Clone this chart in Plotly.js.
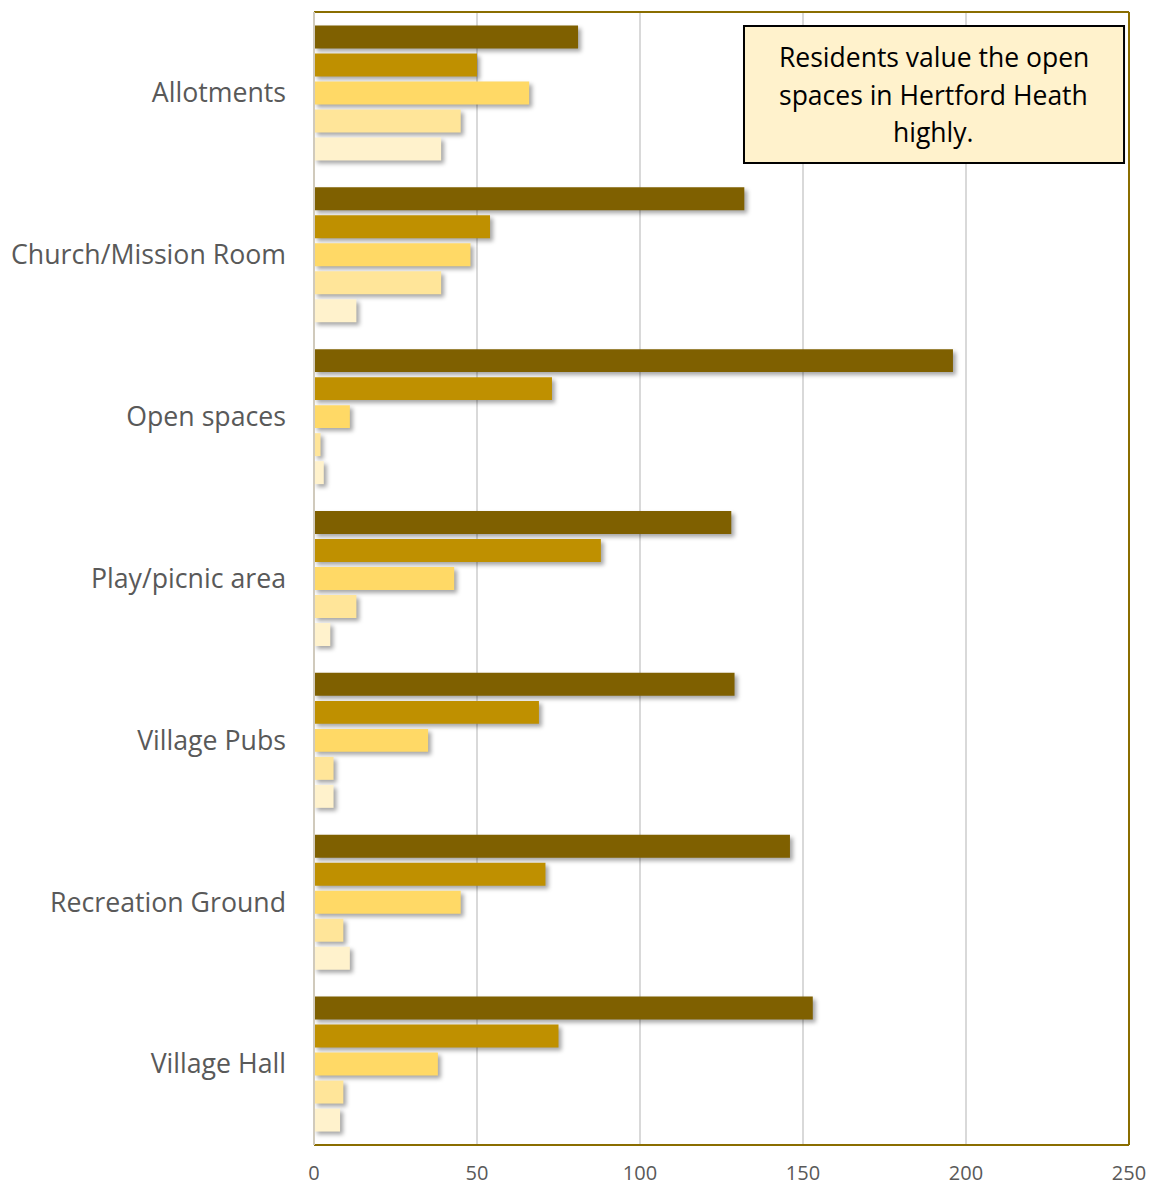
<!DOCTYPE html>
<html>
<head>
<meta charset="utf-8">
<script src="https://cdn.plot.ly/plotly-3.0.1.min.js"></script>
<style>
html,body{margin:0;padding:0;background:#fff;}
#chart{width:1156px;height:1188px;}
.barlayer .point path{filter: drop-shadow(3px 3px 2px rgba(0,0,0,0.35));}
</style>
</head>
<body>
<div id="chart"></div>
<script>
const categories = ["Allotments", "Church/Mission Room", "Open spaces", "Play/picnic area", "Village Pubs", "Recreation Ground", "Village Hall"];
const seriesNames = ["Very important", "Important", "Neutral", "Not very important", "Not important"];
const s1 = [81, 132, 196, 128, 129, 146, 153];
const s2 = [50, 54, 73, 88, 69, 71, 75];
const s3 = [66, 48, 11, 43, 35, 45, 38];
const s4 = [45, 39, 2, 13, 6, 9, 9];
const s5 = [39, 13, 3, 5, 6, 11, 8];
const xTicks = [0, 50, 100, 150, 200, 250];
const noteLines = ["Residents value the open", "spaces in Hertford Heath", "highly."];

const colors = ["#7F6000", "#BF9000", "#FFD966", "#FFE599", "#FFF2CC"];
const allSeries = [s1, s2, s3, s4, s5];
const traces = allSeries.map((vals, i) => ({
  type: "bar",
  orientation: "h",
  name: seriesNames[i],
  y: categories,
  x: vals,
  marker: {color: colors[i], line: {width: 0}},
  hoverinfo: "x+y+name"
}));

const gold = "#8A6D00";
const lineY = [0.9603, 0.9267, 0.8941];
const noteAnnotations = noteLines.map((t, i) => ({
  xref: "paper", yref: "paper",
  x: 0.7607, y: lineY[i],
  xanchor: "center", yanchor: "middle",
  text: t,
  showarrow: false,
  font: {size: 26.5, color: "#000000", family: "Open Sans, sans-serif"}
}));

const layout = {
  width: 1156,
  height: 1188,
  margin: {l: 314, r: 27, t: 12, b: 43},
  paper_bgcolor: "#ffffff",
  plot_bgcolor: "#ffffff",
  font: {family: "Open Sans, sans-serif", color: "#595959"},
  showlegend: false,
  barmode: "group",
  bargap: 0.135,
  bargroupgap: 0.18,
  xaxis: {
    range: [0, 250],
    tickvals: xTicks,
    ticktext: xTicks.map(String),
    showgrid: true,
    gridcolor: "#D9D9D9",
    gridwidth: 2,
    zeroline: false,
    showline: false,
    ticks: "",
    tickfont: {size: 20, color: "#595959"},
    ticklabelstandoff: 14
  },
  yaxis: {
    autorange: "reversed",
    showgrid: false,
    zeroline: false,
    showline: false,
    ticks: "",
    tickfont: {size: 26.7, color: "#595959"},
    ticklabelstandoff: 27
  },
  shapes: [
    {type: "line", xref: "paper", yref: "paper", x0: 0, x1: 1, y0: 1, y1: 1, line: {color: gold, width: 2}},
    {type: "line", xref: "paper", yref: "paper", x0: 1, x1: 1, y0: 0, y1: 1, line: {color: gold, width: 2}},
    {type: "line", xref: "paper", yref: "paper", x0: 0, x1: 1, y0: 0, y1: 0, line: {color: gold, width: 2}},
    {type: "line", xref: "paper", yref: "paper", x0: 0, x1: 0, y0: 0, y1: 1, line: {color: "#D0CABC", width: 2}},
    {type: "rect", xref: "paper", yref: "paper", x0: 0.5276, x1: 0.9939, y0: 0.86673, y1: 0.98764,
     fillcolor: "#FFF2CC", line: {color: "#000000", width: 2}, layer: "above"}
  ],
  annotations: noteAnnotations
};

Plotly.newPlot("chart", traces, layout, {displayModeBar: false, staticPlot: true});
</script>
</body>
</html>
